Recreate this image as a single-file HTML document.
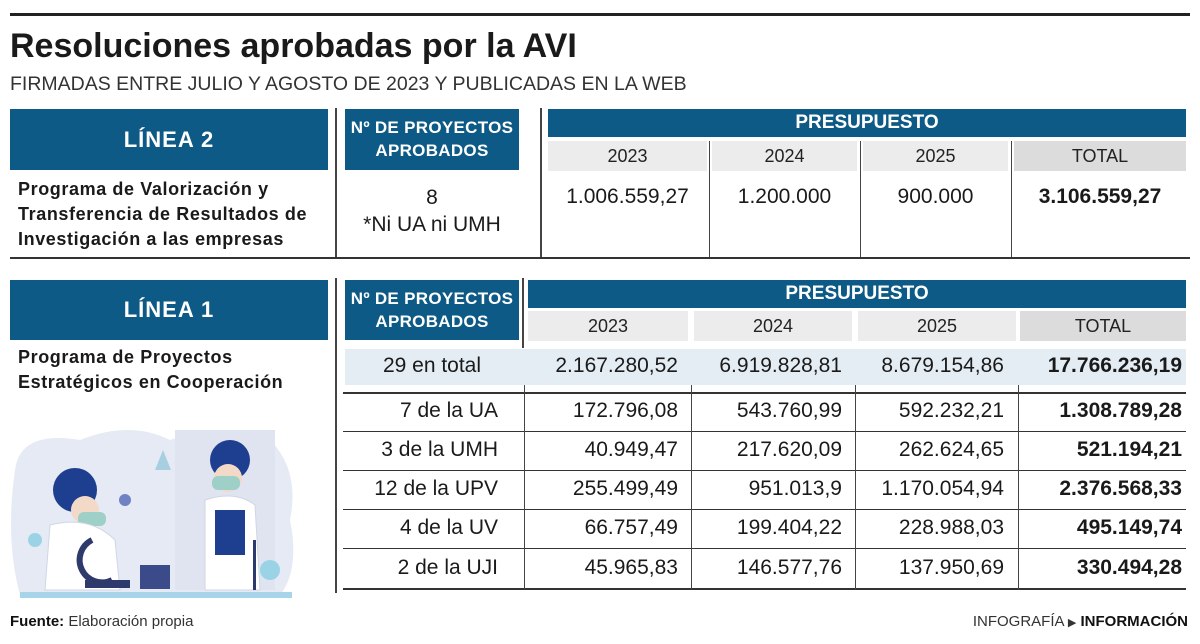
<!DOCTYPE html>
<html><head><meta charset="utf-8"><style>
*{margin:0;padding:0;box-sizing:border-box}
body{width:1200px;height:644px;background:#fff;position:relative;overflow:hidden;font-family:"Liberation Sans",sans-serif;color:#1a1a1a}
.a{position:absolute}
.blue{background:#0e5a86;color:#fff;font-weight:bold;text-align:center}
.gray{background:#ececec;text-align:center;font-size:18px;line-height:30px;color:#222}
.tot{background:#dcdcdc}
.c{position:absolute;text-align:center;font-size:21px;white-space:nowrap}
.r{position:absolute;text-align:right;font-size:21px;white-space:nowrap}
.b{font-weight:bold}
.hl{position:absolute;height:2px;background:#333}
.vl{position:absolute;width:2px;background:#444}
.sq{display:inline-block;transform-origin:left center;white-space:nowrap}
</style></head><body>
<div class="hl" style="left:10px;top:13px;width:1180px;height:3px;background:#222"></div>
<div class="a" style="left:10px;top:27px;font-size:34px;font-weight:bold;"><span class="sq">Resoluciones aprobadas por la AVI</span></div>
<div class="a" style="left:10px;top:73px;font-size:19.5px;color:#333"><span class="sq">FIRMADAS ENTRE JULIO Y AGOSTO DE 2023 Y PUBLICADAS EN LA WEB</span></div>

<!-- LINEA 2 -->
<div class="a blue" style="left:10px;top:109px;width:318px;height:61px;line-height:61px;font-size:22px;letter-spacing:1px">LÍNEA 2</div>
<div class="a blue" style="left:345px;top:109px;width:174px;height:61px;font-size:17px;line-height:23px;padding-top:7px;letter-spacing:0.3px;white-space:nowrap">Nº DE PROYECTOS<br>APROBADOS</div>
<div class="vl" style="left:335px;top:108px;height:150px"></div>
<div class="vl" style="left:540px;top:108px;height:150px"></div>
<div class="a blue" style="left:548px;top:109px;width:638px;height:28px;line-height:28px;font-size:19px">PRESUPUESTO</div>
<div class="a gray" style="left:548px;top:141px;width:159px">2023</div>
<div class="a gray" style="left:712px;top:141px;width:145px">2024</div>
<div class="a gray" style="left:863px;top:141px;width:145px">2025</div>
<div class="a gray tot" style="left:1014px;top:141px;width:172px">TOTAL</div>
<div class="vl" style="left:709px;top:141px;height:117px;width:1px"></div>
<div class="vl" style="left:860px;top:141px;height:117px;width:1px"></div>
<div class="vl" style="left:1011px;top:141px;height:117px;width:1px"></div>
<div class="a b" style="left:18px;top:177px;font-size:18px;line-height:25px;letter-spacing:0.6px;white-space:nowrap">Programa de Valorización y<br>Transferencia de Resultados de<br>Investigación a las empresas</div>
<div class="c" style="left:345px;top:184px;width:174px;line-height:27px">8<br>*Ni UA ni UMH</div>
<div class="c" style="left:548px;top:185px;width:159px">1.006.559,27</div>
<div class="c" style="left:712px;top:185px;width:145px">1.200.000</div>
<div class="c" style="left:863px;top:185px;width:145px">900.000</div>
<div class="c b" style="left:1014px;top:185px;width:172px">3.106.559,27</div>
<div class="hl" style="left:10px;top:257px;width:1180px"></div>

<!-- LINEA 1 -->
<div class="a blue" style="left:10px;top:280px;width:318px;height:60px;line-height:60px;font-size:22px;letter-spacing:1px">LÍNEA 1</div>
<div class="a blue" style="left:345px;top:280px;width:174px;height:60px;font-size:17px;line-height:23px;padding-top:7px;letter-spacing:0.3px;white-space:nowrap">Nº DE PROYECTOS<br>APROBADOS</div>
<div class="vl" style="left:335px;top:278px;height:315px"></div>
<div class="vl" style="left:522px;top:278px;height:70px"></div>
<div class="a blue" style="left:528px;top:280px;width:658px;height:28px;line-height:28px;font-size:19px">PRESUPUESTO</div>
<div class="a gray" style="left:528px;top:311px;width:160px">2023</div>
<div class="a gray" style="left:694px;top:311px;width:158px">2024</div>
<div class="a gray" style="left:858px;top:311px;width:158px">2025</div>
<div class="a gray tot" style="left:1020px;top:311px;width:166px">TOTAL</div>
<div class="a b" style="left:18px;top:345px;font-size:18px;line-height:25px;letter-spacing:0.6px;white-space:nowrap">Programa de Proyectos<br>Estratégicos en Cooperación</div>
<div class="a" style="left:345px;top:349px;width:841px;height:36px;background:#e4ecf4"></div>
<div class="c" style="left:345px;top:354px;width:174px">29 en total</div>
<div class="r" style="left:528px;top:354px;width:150px">2.167.280,52</div>
<div class="r" style="left:694px;top:354px;width:148px">6.919.828,81</div>
<div class="r" style="left:858px;top:354px;width:146px">8.679.154,86</div>
<div class="r b" style="left:1020px;top:354px;width:162px">17.766.236,19</div>

<div class="hl" style="left:343px;top:392px;width:843px"></div>
<div class="hl" style="left:343px;top:431px;width:843px;height:1px"></div>
<div class="hl" style="left:343px;top:470px;width:843px;height:1px"></div>
<div class="hl" style="left:343px;top:509px;width:843px;height:1px"></div>
<div class="hl" style="left:343px;top:548px;width:843px;height:1px"></div>
<div class="hl" style="left:343px;top:588px;width:843px"></div>
<div class="vl" style="left:524px;top:385px;height:205px;width:1px"></div>
<div class="vl" style="left:691px;top:385px;height:205px;width:1px"></div>
<div class="vl" style="left:855px;top:385px;height:205px;width:1px"></div>
<div class="vl" style="left:1018px;top:385px;height:205px;width:1px"></div>

<div class="r" style="left:345px;top:399px;width:153px">7 de la UA</div>
<div class="r" style="left:528px;top:399px;width:150px">172.796,08</div>
<div class="r" style="left:694px;top:399px;width:148px">543.760,99</div>
<div class="r" style="left:858px;top:399px;width:146px">592.232,21</div>
<div class="r b" style="left:1020px;top:399px;width:162px">1.308.789,28</div>

<div class="r" style="left:345px;top:438px;width:153px">3 de la UMH</div>
<div class="r" style="left:528px;top:438px;width:150px">40.949,47</div>
<div class="r" style="left:694px;top:438px;width:148px">217.620,09</div>
<div class="r" style="left:858px;top:438px;width:146px">262.624,65</div>
<div class="r b" style="left:1020px;top:438px;width:162px">521.194,21</div>

<div class="r" style="left:345px;top:477px;width:153px">12 de la UPV</div>
<div class="r" style="left:528px;top:477px;width:150px">255.499,49</div>
<div class="r" style="left:694px;top:477px;width:148px">951.013,9</div>
<div class="r" style="left:858px;top:477px;width:146px">1.170.054,94</div>
<div class="r b" style="left:1020px;top:477px;width:162px">2.376.568,33</div>

<div class="r" style="left:345px;top:516px;width:153px">4 de la UV</div>
<div class="r" style="left:528px;top:516px;width:150px">66.757,49</div>
<div class="r" style="left:694px;top:516px;width:148px">199.404,22</div>
<div class="r" style="left:858px;top:516px;width:146px">228.988,03</div>
<div class="r b" style="left:1020px;top:516px;width:162px">495.149,74</div>

<div class="r" style="left:345px;top:556px;width:153px">2 de la UJI</div>
<div class="r" style="left:528px;top:556px;width:150px">45.965,83</div>
<div class="r" style="left:694px;top:556px;width:148px">146.577,76</div>
<div class="r" style="left:858px;top:556px;width:146px">137.950,69</div>
<div class="r b" style="left:1020px;top:556px;width:162px">330.494,28</div>

<!-- illustration -->
<svg class="a" style="left:0;top:410px" width="320" height="195" viewBox="0 410 320 195">
<path d="M15 470 Q20 430 80 440 Q130 420 170 440 Q230 420 270 440 Q300 470 290 520 Q300 570 280 595 L20 595 Q5 540 15 470Z" fill="#e6eaf4"/>
<rect x="175" y="430" width="100" height="160" fill="#dfe4f0"/>
<circle cx="75" cy="490" r="22" fill="#1e3f8f"/>
<circle cx="85" cy="510" r="14" fill="#f3d9c8"/>
<rect x="78" y="512" width="28" height="14" rx="6" fill="#9fd0c8"/>
<path d="M50 525 Q90 515 115 540 L120 590 L45 590Z" fill="#fff" stroke="#cfd6e6"/>
<circle cx="230" cy="460" r="20" fill="#1e3f8f"/>
<circle cx="228" cy="478" r="14" fill="#f3d9c8"/>
<rect x="212" y="476" width="28" height="14" rx="6" fill="#9fd0c8"/>
<path d="M205 500 Q235 490 255 505 L260 590 L205 590Z" fill="#fff" stroke="#cfd6e6"/>
<rect x="215" y="510" width="30" height="45" fill="#1e3f8f"/>
<path d="M92 540 a18 18 0 1 0 20 40" fill="none" stroke="#2d3a6b" stroke-width="6"/>
<rect x="85" y="580" width="45" height="8" fill="#2d3a6b"/>
<rect x="140" y="565" width="30" height="24" fill="#3b4b8a"/>
<path d="M155 470 l8 -20 l8 20 z" fill="#a8cfe0"/>
<rect x="253" y="540" width="3" height="50" fill="#2d3a6b"/>
<circle cx="270" cy="570" r="10" fill="#9ad3e6"/>
<circle cx="125" cy="500" r="6" fill="#6f82c4"/>
<circle cx="35" cy="540" r="7" fill="#9ad3e6"/>
<rect x="20" y="592" width="272" height="6" fill="#a8d4ea"/>
</svg>

<div class="a" style="left:10px;top:613px;font-size:15px;color:#333"><b style="color:#111">Fuente:</b> Elaboración propia</div>
<div class="a" style="right:12px;top:613px;font-size:15px;color:#333">INFOGRAFÍA <span style="font-size:11px">&#9654;</span> <b style="color:#111">INFORMACIÓN</b></div>
</body></html>
